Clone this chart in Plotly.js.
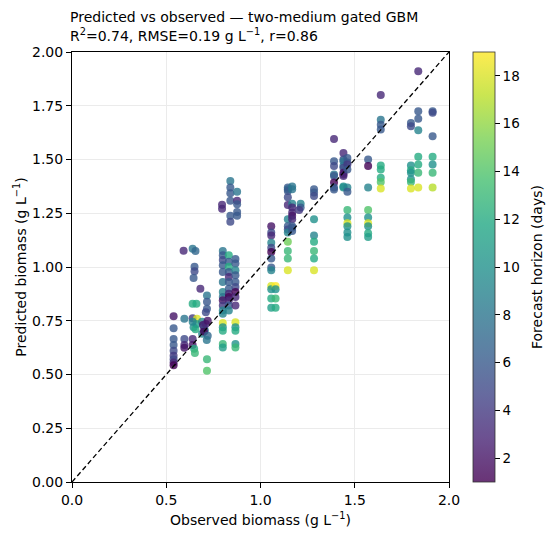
<!DOCTYPE html>
<html>
<head>
<meta charset="utf-8">
<script src="https://cdn.plot.ly/plotly-3.0.1.min.js"></script>
<style>
html,body{margin:0;padding:0;background:#fff;}
#chart{width:550px;height:537px;}
</style>
</head>
<body>
<div id="chart"></div>
<script>
// Observed biomass (g/L), predicted biomass (g/L), forecast horizon (days)
const observed = [
  0.539,0.539,0.539,0.539,0.539,0.539,0.539,0.539,0.539,
  0.592,0.596,0.596,0.596,0.596,
  0.64,0.655,0.65,0.65,0.645,0.64,0.66,0.64,0.663,0.645,0.655,0.64,0.64,0.648,0.652,0.66,0.64,
  0.681,0.69,0.695,0.70,0.705,0.69,0.70,0.71,
  0.716,0.716,0.716,0.71,0.716,0.716,0.72,0.72,0.715,
  0.80,0.80,0.80,0.80,0.80,0.80,0.80,0.80,0.80,0.80,0.80,0.80,0.80,0.80,0.80,0.80,0.80,0.796,0.796,
  0.832,0.832,0.832,0.832,0.832,0.832,0.832,0.832,0.832,0.832,0.832,0.832,
  0.84,0.84,0.84,0.84,0.84,0.84,
  0.867,0.867,0.867,0.867,0.867,0.867,0.867,0.867,0.867,0.867,0.867,0.867,0.867,0.867,
  0.876,0.876,0.876,0.876,0.876,
  1.057,1.057,1.057,1.057,1.057,1.057,1.057,1.057,1.057,1.057,1.057,1.057,1.057,
  1.08,1.08,1.08,1.08,
  1.145,1.145,1.145,1.145,1.145,1.145,1.145,1.145,1.145,1.145,1.145,1.145,1.145,
  1.168,1.168,1.168,1.168,1.168,1.168,1.168,1.168,1.168,1.168,
  1.213,1.213,1.205,
  1.284,1.284,1.284,1.284,1.284,1.284,1.284,1.284,1.284,
  1.39,1.39,1.39,1.39,1.39,1.39,1.39,1.39,
  1.44,1.44,1.44,1.44,1.44,1.44,1.44,1.44,1.44,1.44,
  1.461,1.461,1.461,1.461,1.461,1.461,1.461,1.461,1.461,1.461,1.461,1.461,
  1.571,1.571,1.571,1.571,1.571,1.571,1.571,1.571,1.571,
  1.638,1.638,1.638,1.638,1.638,1.638,1.638,1.638,1.638,
  1.798,1.798,1.798,1.798,1.798,1.798,1.798,1.798,
  1.837,1.837,1.837,1.837,1.837,1.837,1.837,1.837,
  1.913,1.913,1.913,1.913,1.913,1.913,1.913
];
const predicted = [
  0.771,0.715,0.665,0.637,0.610,0.587,0.571,0.556,0.543,
  1.076,0.759,0.665,0.637,0.625,
  1.085,1.075,1.001,0.98,0.949,0.829,0.829,0.762,0.759,0.72,0.71,0.665,0.637,0.62,0.60,0.735,0.745,
  0.899,0.745,0.73,0.72,0.705,0.69,0.70,0.735,
  0.868,0.838,0.806,0.79,0.571,0.517,0.75,0.68,0.66,
  1.074,1.055,1.032,1.008,0.977,0.93,0.884,0.86,0.845,0.821,0.798,0.782,0.74,0.72,0.704,0.642,0.626,1.29,1.271,
  1.055,1.024,1.001,0.977,0.954,0.93,0.899,0.876,0.86,0.845,0.821,0.798,
  1.40,1.37,1.343,1.308,1.238,1.21,
  1.037,1.016,0.985,0.962,0.93,0.907,0.884,0.86,0.821,0.743,0.72,0.704,0.642,0.626,
  1.35,1.308,1.292,1.256,1.238,
  1.19,1.16,1.147,1.113,1.09,1.07,1.04,0.998,0.985,0.912,0.896,0.853,0.811,
  0.912,0.896,0.853,0.811,
  1.37,1.362,1.354,1.324,1.288,1.222,1.19,1.175,1.16,1.118,1.075,1.04,0.985,
  1.374,1.362,1.294,1.277,1.253,1.238,1.222,1.19,1.183,1.167,
  1.294,1.277,1.265,
  1.362,1.346,1.33,1.222,1.147,1.118,1.075,1.04,0.985,
  1.595,1.492,1.47,1.43,1.423,1.393,1.37,1.36,
  1.53,1.50,1.492,1.47,1.462,1.438,1.43,1.423,1.374,1.37,
  1.507,1.486,1.477,1.454,1.37,1.35,1.265,1.23,1.203,1.19,1.16,1.14,
  1.50,1.47,1.37,1.265,1.23,1.203,1.19,1.157,1.14,
  1.80,1.685,1.662,1.64,1.472,1.454,1.415,1.395,1.365,
  1.67,1.655,1.472,1.45,1.438,1.408,1.395,1.365,
  1.91,1.725,1.69,1.636,1.513,1.477,1.438,1.37,
  1.725,1.717,1.608,1.513,1.477,1.438,1.37
];
const horizon = [
  2,6,6,6,5,4,5,3,1,
  3,8,5,3,2,
  8,7,6,5,6,12,12,4,18,10,12,3,2,12,13,11,9,
  3,9,2,4,8,9,1,3,
  8,6,6,5,13,14,2,7,8,
  8,6,5,6,6,8,9,8,2,4,9,9,18,10,12,13,11,3,3,
  12,6,12,6,3,6,6,3,1,3,6,9,
  8,6,6,6,6,5,
  6,6,9,6,6,5,1,3,3,18,10,12,10,13,
  8,3,6,6,6,
  2,5,3,9,5,1,6,6,9,18,10,12,11,
  19,10,13,12,
  6,7,6,5,3,9,6,5,9,15,13,13,18,
  8,8,9,3,3,2,3,6,6,6,
  9,6,4,
  6,6,5,10,9,12,13,12,18,
  3,6,5,8,6,1,6,6,
  3,5,8,8,5,2,2,3,10,10,
  6,6,4,6,9,6,13,10,18,10,10,10,
  6,1,9,14,10,18,10,12,11,
  3,8,6,6,12,12,12,14,18,
  6,5,10,12,10,10,13,18,
  3,6,6,9,12,12,13,18,
  6,5,6,12,10,13,17
];
const identityLine = [0, 2.0];
const xTicks = [0.0, 0.5, 1.0, 1.5, 2.0];
const yTicks = [0.00, 0.25, 0.50, 0.75, 1.00, 1.25, 1.50, 1.75, 2.00];
const cbTicks = [2, 4, 6, 8, 10, 12, 14, 16, 18];

const titleLine1 = 'Predicted vs observed — two-medium gated GBM';
const titleLine2 = 'R<sup>2</sup>=0.74, RMSE=0.19 g L<sup>−1</sup>, r=0.86';
const xTitle = 'Observed biomass (g L<sup>−1</sup>)';
const yTitle = 'Predicted biomass (g L<sup>−1</sup>)';
const cbTitle = 'Forecast horizon (days)';

const viridis = ['#440154','#482475','#414487','#355f8d','#2a788e','#21918c','#22a884','#44bf70','#7ad151','#bddf26','#fde725'];
function rgba(hex, a){
  const n = parseInt(hex.slice(1),16);
  return 'rgba(' + ((n>>16)&255) + ',' + ((n>>8)&255) + ',' + (n&255) + ',' + a + ')';
}
const cscale = viridis.map((c,i)=>[i/(viridis.length-1), rgba(c,0.8)]);

const font = 'DejaVu Sans, sans-serif';

const traces = [
  {
    type: 'scatter', mode: 'markers',
    x: observed, y: predicted,
    marker: {
      size: 8, color: horizon, cmin: 1, cmax: 19, colorscale: cscale,
      line: {width: 0},
      colorbar: {
        x: 1.0637, xanchor: 'left', xpad: 0, ypad: 0,
        y: 0.5, yanchor: 'middle', len: 1, lenmode: 'fraction',
        thickness: 22, outlinewidth: 0.8, outlinecolor: '#333',
        tickvals: cbTicks, ticks: 'outside', ticklen: 5, tickcolor: '#000',
        tickfont: {family: font, size: 13.5, color: '#000'}
      }
    },
    hoverinfo: 'x+y', showlegend: false
  },
  {
    type: 'scatter', mode: 'lines',
    x: identityLine, y: identityLine,
    line: {color: '#000', width: 1.3, dash: '5px,3px'},
    hoverinfo: 'skip', showlegend: false
  }
];

const axisCommon = {
  showline: true, mirror: true, linecolor: '#000', linewidth: 1,
  ticks: 'outside', ticklen: 5, tickcolor: '#000', tickwidth: 1,
  showgrid: true, gridcolor: '#ebebeb', gridwidth: 1, zeroline: false,
  tickfont: {family: font, size: 14, color: '#000'}
};

const layout = {
  width: 550, height: 537,
  margin: {l: 72, r: 101, t: 52, b: 55},
  paper_bgcolor: '#fff', plot_bgcolor: '#fff',
  font: {family: font, color: '#000'},
  xaxis: Object.assign({}, axisCommon, {
    range: [0, 2.0], tickvals: xTicks, tickformat: '.1f',
    title: {text: xTitle, font: {family: font, size: 14, color: '#000'}, standoff: 8}
  }),
  yaxis: Object.assign({}, axisCommon, {
    range: [0, 2.0], tickvals: yTicks, tickformat: '.2f',
    title: {text: yTitle, font: {family: font, size: 14, color: '#000'}, standoff: 2}
  }),
  annotations: [
    {text: titleLine1, xref: 'paper', yref: 'paper', x: -0.011, y: 1 + (52 - 17) / 430,
     xanchor: 'left', yanchor: 'middle', showarrow: false, font: {family: font, size: 14, color: '#000'}},
    {text: titleLine2, xref: 'paper', yref: 'paper', x: -0.011, y: 1 + (52 - 35) / 430,
     xanchor: 'left', yanchor: 'middle', showarrow: false, font: {family: font, size: 14, color: '#000'}},
    {text: cbTitle, xref: 'paper', yref: 'paper', x: (537 - 72) / 377, y: 0.5, textangle: -90,
     xanchor: 'center', yanchor: 'middle', showarrow: false, font: {family: font, size: 14, color: '#000'}}
  ]
};

Plotly.newPlot('chart', traces, layout, {displayModeBar: false, staticPlot: true});
</script>
</body>
</html>
